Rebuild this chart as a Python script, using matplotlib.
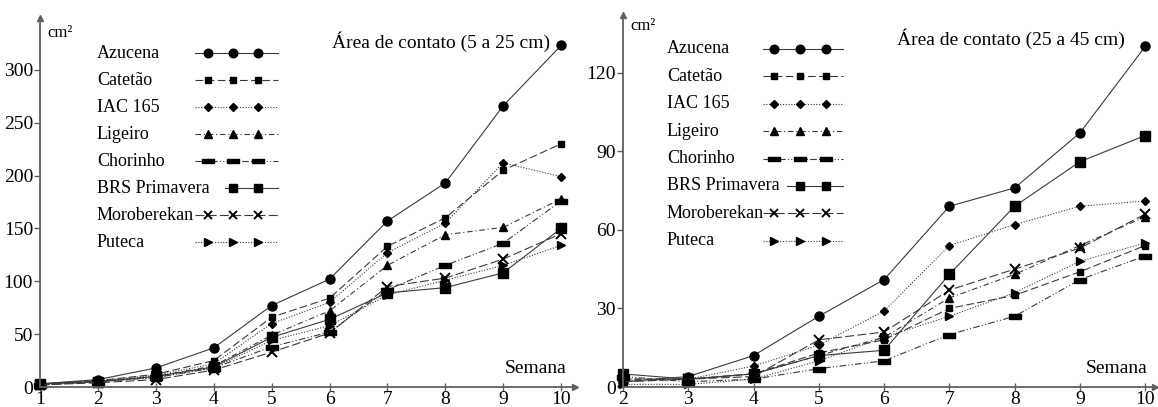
import matplotlib
matplotlib.use("Agg")
import matplotlib.pyplot as plt

plt.rcParams['font.family'] = ['Liberation Serif', 'DejaVu Serif']

names = ['Azucena', 'Catetão', 'IAC 165', 'Ligeiro', 'Chorinho',
         'BRS Primavera', 'Moroberekan', 'Puteca']

# area (cm2) per week, 5 to 25 cm layer
weeks_a = [1, 2, 3, 4, 5, 6, 7, 8, 9, 10]
azucena_a = [3, 7, 18, 37, 77, 102, 157, 193, 266, 323]
catetao_a = [3, 6, 12, 25, 66, 84, 133, 160, 205, 230]
iac165_a = [3, 6, 11, 22, 60, 80, 127, 155, 212, 199]
ligeiro_a = [2, 5, 10, 20, 49, 72, 115, 144, 151, 178]
chorinho_a = [2, 5, 9, 18, 38, 52, 92, 115, 136, 176]
brs_a = [3, 5, 10, 19, 47, 64, 89, 94, 108, 150]
morob_a = [2, 4, 7, 16, 33, 51, 95, 103, 121, 145]
puteca_a = [2, 5, 9, 18, 44, 58, 87, 101, 115, 134]

# area (cm2) per week, 25 to 45 cm layer
weeks_b = [2, 3, 4, 5, 6, 7, 8, 9, 10]
azucena_b = [2, 4, 12, 27, 41, 69, 76, 97, 130]
catetao_b = [3, 3, 5, 13, 18, 30, 35, 44, 54]
iac165_b = [2, 3, 8, 16, 29, 54, 62, 69, 71]
ligeiro_b = [3, 3, 5, 12, 19, 34, 43, 54, 65]
chorinho_b = [4, 2, 3, 7, 10, 20, 27, 41, 50]
brs_b = [5, 3, 5, 12, 14, 43, 69, 86, 96]
morob_b = [2, 3, 4, 18, 21, 37, 45, 53, 66]
puteca_b = [1, 1, 3, 10, 19, 27, 36, 48, 55]

bar = [(-1, -0.4), (1, -0.4), (1, 0.4), (-1, 0.4), (-1, -0.4)]
styles = [
    dict(ls='-', marker='o', ms=6.5),
    dict(ls=(0, (7, 3)), marker='s', ms=5),
    dict(ls=(0, (1, 1.5)), marker='D', ms=4.5),
    dict(ls=(0, (5, 2.5, 1, 2.5)), marker='^', ms=6),
    dict(ls=(0, (6, 2, 1, 2, 1, 2)), marker=bar, ms=9),
    dict(ls='-', marker='s', ms=6.5),
    dict(ls=(0, (8, 3)), marker='x', ms=6.5, mew=1.4),
    dict(ls=(0, (1, 1.5)), marker='>', ms=5.5),
]

fig = plt.figure(figsize=(11.58, 4.07), dpi=100)


def panel(rect, weeks, series, xlim, ylim, yticks, title, leg):
    ax = fig.add_axes(rect)
    for vals, st in zip(series, styles):
        ax.plot(weeks, vals, color='#3a3a3a', lw=0.8, ls=st['ls'],
                marker=st['marker'], ms=st['ms'], mfc='black', mec='black',
                mew=st.get('mew', 1), clip_on=False)
    ax.set_xlim(*xlim)
    ax.set_ylim(*ylim)
    ax.set_xticks(weeks)
    ax.set_yticks(yticks)
    for s in ['top', 'right']:
        ax.spines[s].set_visible(False)
    for s in ['left', 'bottom']:
        ax.spines[s].set_color('#606060')
        ax.spines[s].set_linewidth(1.3)
    ax.tick_params(axis='y', length=4, width=1, color='#606060', pad=1,
                   labelsize=14)
    ax.tick_params(axis='x', direction='inout', length=6, width=1,
                   color='#606060', pad=0, labelsize=14)
    # arrow heads at the ends of the axes
    ax.plot([0], [1], marker='^', ms=4, color='#606060',
            transform=ax.transAxes, clip_on=False)
    ax.plot([1], [0], marker='>', ms=4, color='#606060',
            transform=ax.transAxes, clip_on=False)
    ax.text(leg['cm'][0], leg['cm'][1], 'cm²', transform=ax.transAxes,
            fontsize=12, va='center', ha='left')
    ax.text(leg['title_x'], 0.935, title, transform=ax.transAxes,
            fontsize=14, ha='right', va='center')
    ax.text(0.985, 0.05, 'Semana', transform=ax.transAxes, fontsize=14,
            ha='right', va='center')
    # hand-built legend: names left aligned, line samples to the right
    tx, x0, x1, mx, y0, dy = leg['pos']
    for i, (name, st) in enumerate(zip(names, styles)):
        y = y0 - i * dy
        ax.text(tx, y, name, transform=ax.transAxes, fontsize=13,
                va='center', ha='left')
        if name == 'BRS Primavera':
            xs = mx[1:]
            start = leg['brs']
        else:
            xs = mx
            start = x0
        ax.plot([start, x1], [y, y], color='#3a3a3a', lw=0.8, ls=st['ls'],
                transform=ax.transAxes, clip_on=False)
        ax.plot(xs, [y] * len(xs), ls='none', marker=st['marker'],
                ms=st['ms'] * 0.95, mfc='black', mec='black',
                mew=st.get('mew', 1), transform=ax.transAxes, clip_on=False)
    return ax


panel([40 / 1158, 20 / 407, 535 / 1158, 369 / 407], weeks_a,
      [azucena_a, catetao_a, iac165_a, ligeiro_a, chorinho_a, brs_a,
       morob_a, puteca_a],
      (1, 10.24), (0, 349), [0, 50, 100, 150, 200, 250, 300],
      'Área de contato (5 a 25 cm)',
      dict(cm=(0.013, 0.96), title_x=0.953,
           pos=(0.1065, 0.29, 0.445, [0.314, 0.361, 0.408], 0.905, 0.0732),
           brs=0.345))

panel([623 / 1158, 20 / 407, 532 / 1158, 372 / 407], weeks_b,
      [azucena_b, catetao_b, iac165_b, ligeiro_b, chorinho_b, brs_b,
       morob_b, puteca_b],
      (2, 10.15), (0, 142), [0, 30, 60, 90, 120],
      'Área de contato (25 a 45 cm)',
      dict(cm=(0.013, 0.97), title_x=0.944,
           pos=(0.0827, 0.263, 0.4135, [0.284, 0.333, 0.382], 0.909, 0.0737),
           brs=0.308))

fig.savefig('out.png', dpi=100)
